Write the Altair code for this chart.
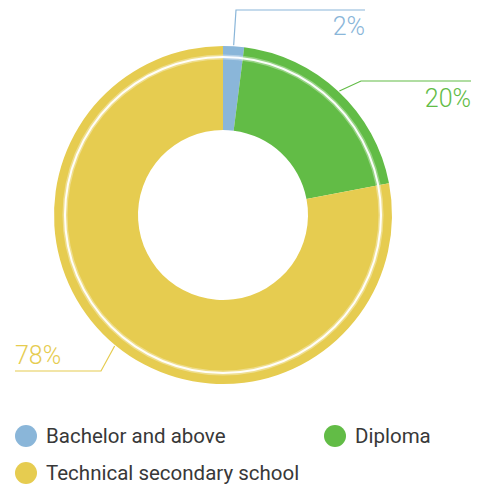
import math
import altair as alt
import pandas as pd

# ---- data ----
categories = ["Bachelor and above", "Diploma", "Technical secondary school"]
shares = [2, 20, 78]
labels = ["2%", "20%", "78%"]
colors = ["#8AB6D9", "#62BC46", "#E6CC50"]

# ---- layout (view pixel coordinates) ----
W, H = 465, 478
CX, CY = 215, 207
R_OUT, R_IN = 169, 85
R_LEADER = 170
elbows = [(228, 2), (353, 73), (93, 363)]
end_x = [357, 463, 7]
text_dy = [25, 26, -7]
text_align = ["right", "right", "left"]
legend_cols = [0, 1, 0]
legend_rows = [0, 0, 1]
LEG_X0, LEG_DX, LEG_Y0, LEG_DY, LEG_TXT = 18, 309, 428, 37, 20
FONT = "Roboto"

slices = pd.DataFrame({"category": categories, "share": shares, "idx": range(3)})

# leader lines start at mid-angle of each slice
rows = []
total = sum(shares)
cum = 0
for i, (c, s) in enumerate(zip(categories, shares)):
    mid = (cum + s / 2) / total * 2 * math.pi
    cum += s
    sx = CX + R_LEADER * math.sin(mid)
    sy = CY - R_LEADER * math.cos(mid)
    ex, ey = elbows[i]
    pts = [(sx, sy), (ex, ey), (end_x[i], ey)]
    for k, (px, py) in enumerate(pts):
        rows.append({"category": c, "step": k, "px": px, "py": py})
lines = pd.DataFrame(rows)

texts = pd.DataFrame({
    "category": categories,
    "label": labels,
    "px": end_x,
    "py": [elbows[i][1] + text_dy[i] for i in range(3)],
    "align": text_align,
})

legend = pd.DataFrame({
    "category": categories,
    "px": [LEG_X0 + c * LEG_DX for c in legend_cols],
    "py": [LEG_Y0 + r * LEG_DY for r in legend_rows],
})
legend["tx"] = legend["px"] + LEG_TXT

color = alt.Color("category:N", scale=alt.Scale(domain=categories, range=colors), legend=None)
xs = alt.Scale(domain=[0, W], range=[0, W], nice=False, zero=False)
ys = alt.Scale(domain=[0, H], range=[0, H], nice=False, zero=False)

donut = alt.Chart(slices).mark_arc(innerRadius=R_IN, outerRadius=R_OUT, stroke=None).encode(
    theta=alt.Theta("share:Q", stack=True),
    order=alt.Order("idx:Q"),
    color=color,
    x=alt.value(CX), y=alt.value(CY),
)

ring_data = pd.DataFrame({"v": [1]})
glow = alt.Chart(ring_data).mark_arc(
    theta=0, theta2=2 * math.pi, radius=160.5, radius2=155.5, color="white", opacity=0.35
).encode(x=alt.value(CX), y=alt.value(CY))
ring = alt.Chart(ring_data).mark_arc(
    theta=0, theta2=2 * math.pi, radius=159, radius2=157, color="white", opacity=0.95
).encode(x=alt.value(CX), y=alt.value(CY))

leader = alt.Chart(lines).mark_line(strokeWidth=1.2).encode(
    x=alt.X("px:Q", scale=xs, axis=None),
    y=alt.Y("py:Q", scale=ys, axis=None),
    detail="category:N",
    order=alt.Order("step:Q"),
    color=color,
)

pct_r = alt.Chart(texts[texts["align"] == "right"]).mark_text(
    font=FONT, fontSize=25, fontWeight=300, align="right", baseline="alphabetic"
).encode(
    x=alt.X("px:Q", scale=xs, axis=None),
    y=alt.Y("py:Q", scale=ys, axis=None),
    text="label:N",
    color=color,
)
pct_l = alt.Chart(texts[texts["align"] == "left"]).mark_text(
    font=FONT, fontSize=25, fontWeight=300, align="left", baseline="alphabetic"
).encode(
    x=alt.X("px:Q", scale=xs, axis=None),
    y=alt.Y("py:Q", scale=ys, axis=None),
    text="label:N",
    color=color,
)

leg_dots = alt.Chart(legend).mark_point(filled=True, shape="circle", size=484, opacity=1).encode(
    x=alt.X("px:Q", scale=xs, axis=None),
    y=alt.Y("py:Q", scale=ys, axis=None),
    color=color,
)
leg_text = alt.Chart(legend).mark_text(
    font=FONT, fontSize=20.5, align="left", baseline="middle", dy=1, color="#383838"
).encode(
    x=alt.X("tx:Q", scale=xs, axis=None),
    y=alt.Y("py:Q", scale=ys, axis=None),
    text="category:N",
)

chart = alt.layer(donut, glow, ring, leader, pct_r, pct_l, leg_dots, leg_text).properties(
    width=W, height=H, padding=0, autosize="none"
).configure_view(stroke=None)

chart.save("out.html", embed_options={"renderer": "svg", "actions": False})
